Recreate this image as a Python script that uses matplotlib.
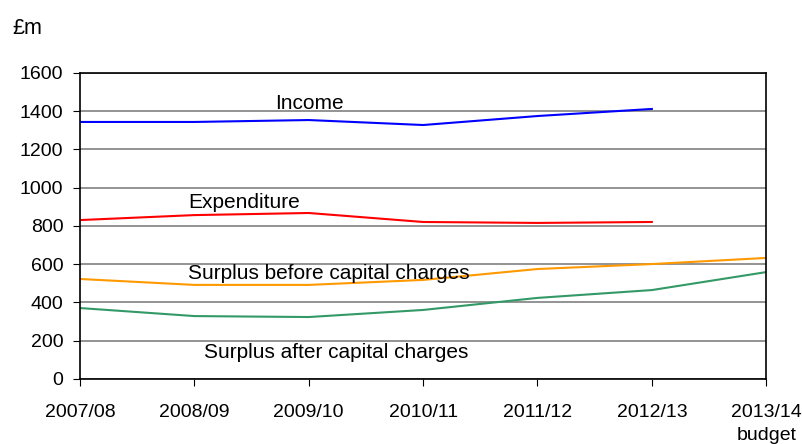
import matplotlib.pyplot as plt

plt.rcParams['font.family'] = ['Liberation Sans', 'DejaVu Sans']

years = ['2007/08', '2008/09', '2009/10', '2010/11', '2011/12', '2012/13', '2013/14\nbudget']
income = [1344, 1344, 1354, 1328, 1375, 1412]
expenditure = [831, 857, 868, 821, 816, 821]
surplus_before = [523, 492, 492, 518, 575, 601, 633]
surplus_after = [371, 329, 324, 361, 424, 465, 559]

fig = plt.figure(figsize=(8.03, 4.44), dpi=100)
ax = fig.add_axes([0.0996, 0.1464, 0.8546, 0.6892])

x = list(range(len(years)))
ax.plot(x[:len(income)], income, color='#0000FF', lw=1.5)
ax.plot(x[:len(expenditure)], expenditure, color='#FF0000', lw=1.5)
ax.plot(x, surplus_before, color='#FF9900', lw=1.5)
ax.plot(x, surplus_after, color='#339966', lw=1.5)

# series labels
ax.text(2.01, 1438, 'Income', fontsize=15, ha='center', va='center')
ax.text(0.945, 925, 'Expenditure', fontsize=15, ha='left', va='center')
ax.text(0.945, 554, 'Surplus before capital charges', fontsize=15, ha='left', va='center')
ax.text(1.085, 136, 'Surplus after capital charges', fontsize=15, ha='left', va='center')

ax.set_xlim(0, 6)
ax.set_ylim(0, 1600)
ax.set_yticks(range(0, 1601, 200))
ax.set_xticks(x)
ax.set_xticklabels(years, linespacing=1.5)
ax.tick_params(axis='x', direction='out', length=5, pad=13, labelsize=14)
ax.tick_params(axis='y', direction='out', length=5, pad=7, labelsize=14)

ax.grid(axis='y', color='#808080', lw=1.2)
ax.set_axisbelow(True)
for s in ax.spines.values():
    s.set_color('black')
    s.set_linewidth(1.2)

fig.text(12 / 803, 1 - 29 / 444, '£m', fontsize=15.5, ha='left', va='center')

fig.savefig('out.png', dpi=100)
